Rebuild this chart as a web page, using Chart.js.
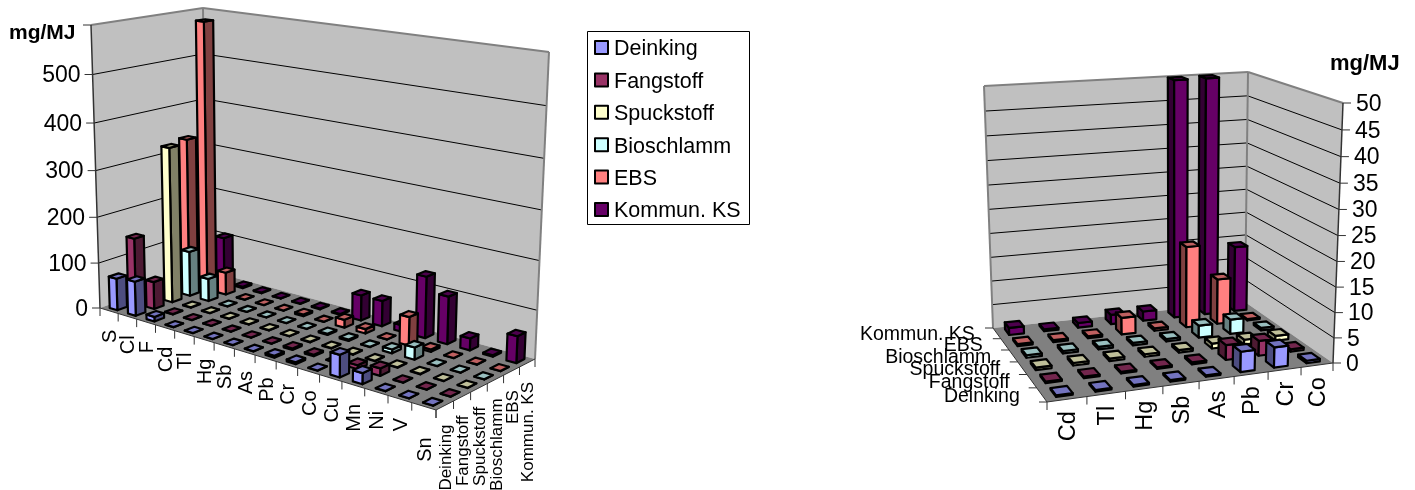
<!DOCTYPE html>
<html>
<head>
<meta charset="utf-8">
<script src="https://cdn.jsdelivr.net/npm/chart.js@4"></script>
<style>
  html, body { margin: 0; background: #fff; }
  canvas { position: absolute; top: 0; }
</style>
</head>
<body>
<canvas id="leftChart" style="left:0" width="780" height="490"></canvas>
<canvas id="rightChart" style="left:780px" width="635" height="490"></canvas>
<script>
const seriesNames = ['Deinking', 'Fangstoff', 'Spuckstoff', 'Bioschlamm', 'EBS', 'Kommun. KS'];
const seriesColors = ['#9999ff', '#993366', '#ffffcc', '#ccffff', '#ff8080', '#660066'];

// all elements
const categoriesAll = ['S', 'Cl', 'F', 'Cd', 'Tl', 'Hg', 'Sb', 'As', 'Pb', 'Cr', 'Co', 'Cu', 'Mn', 'Ni', 'V', 'Sn'];
const deinkingAll = [70, 75, 10, 0.3, 0.3, 0.3, 0.3, 0.3, 4, 4, 0.5, 45, 22, 0.5, 0.3, 0.3];
const fangstoffAll = [145, 60, 1, 0.3, 0.3, 0.3, 0.3, 0.4, 3, 3, 0.5, 8, 15, 0.5, 0.3, 0.3];
const spuckstoffAll = [1, 340, 1, 0.5, 0.5, 0.5, 0.5, 0.5, 1, 1, 1, 1, 1, 1, 0.5, 0.5];
const bioschlammAll = [1, 100, 50, 0.5, 0.5, 0.5, 0.5, 0.5, 2.5, 3, 0.5, 8, 25, 0.5, 0.5, 0.5];
const ebsAll = [330, 590, 50, 0.4, 0.4, 0.4, 3.5, 0.5, 17, 9.5, 0.3, 60, 5, 0.5, 0.5, 0.5];
const kommunAll = [1, 105, 3, 1.5, 0.4, 1, 2, 2, 55, 55, 14, 130, 100, 25, 3, 55];

// heavy metals only
const categoriesMetals = ['Cd', 'Tl', 'Hg', 'Sb', 'As', 'Pb', 'Cr', 'Co'];
const deinkingMetals = [0.3, 0.3, 0.3, 0.3, 0.3, 4, 4, 0.5];
const fangstoffMetals = [0.3, 0.3, 0.3, 0.3, 0.4, 3, 3, 0.5];
const spuckstoffMetals = [0.5, 0.5, 0.5, 0.5, 0.5, 1, 1, 1];
const bioschlammMetals = [0.5, 0.5, 0.5, 0.5, 0.5, 2.5, 3, 0.5];
const ebsMetals = [0.4, 0.4, 0.4, 3.5, 0.5, 17, 9.5, 0.3];
const kommunMetals = [1.5, 0.4, 1, 2, 2, 55, 55, 14];

const FONT = '"Liberation Sans", Arial, sans-serif';

// maps the unit square onto a picture quad: (0,0) A, (1,0) B, (1,1) C, (0,1) D
function quadMap([A, B, C, D]) {
  const dx1 = B[0] - C[0], dx2 = D[0] - C[0], sx = A[0] - B[0] + C[0] - D[0];
  const dy1 = B[1] - C[1], dy2 = D[1] - C[1], sy = A[1] - B[1] + C[1] - D[1];
  const det = dx1 * dy2 - dx2 * dy1;
  const g = (sx * dy2 - dx2 * sy) / det;
  const h = (dx1 * sy - sx * dy1) / det;
  const a = B[0] - A[0] + g * B[0], b = D[0] - A[0] + h * D[0];
  const d = B[1] - A[1] + g * B[1], e = D[1] - A[1] + h * D[1];
  return (u, v) => {
    const W = g * u + h * v + 1;
    return [(a * u + b * v + A[0]) / W, (d * u + e * v + A[1]) / W];
  };
}

function makeProjection(view) {
  const floor = quadMap(view.floor);
  const roof = quadMap(view.roof);
  return (u, v, w) => {
    const f = floor(u, v), r = roof(u, v);
    const t = w / (1 + view.persp * (1 - w));
    return [f[0] + (r[0] - f[0]) * t, f[1] + (r[1] - f[1]) * t];
  };
}

function shade(hex, k) {
  const n = parseInt(hex.slice(1), 16);
  return `rgb(${Math.round((n >> 16) * k)},${Math.round(((n >> 8) & 255) * k)},${Math.round((n & 255) * k)})`;
}

function poly(ctx, pts, fill, stroke, lw) {
  ctx.beginPath();
  pts.forEach((p, i) => i ? ctx.lineTo(p[0], p[1]) : ctx.moveTo(p[0], p[1]));
  ctx.closePath();
  if (fill) { ctx.fillStyle = fill; ctx.fill(); }
  if (stroke) { ctx.strokeStyle = stroke; ctx.lineWidth = lw; ctx.stroke(); }
}

function line(ctx, p, q, color, lw) {
  ctx.beginPath();
  ctx.moveTo(p[0], p[1]);
  ctx.lineTo(q[0], q[1]);
  ctx.strokeStyle = color;
  ctx.lineWidth = lw;
  ctx.stroke();
}

function label(ctx, text, x, y, font, align, baseline, rotate) {
  ctx.save();
  ctx.translate(x, y);
  if (rotate) ctx.rotate(-Math.PI / 2);
  ctx.font = font;
  ctx.textAlign = align;
  ctx.textBaseline = baseline;
  ctx.fillStyle = '#000';
  // middle baseline sits a little high for capitals and digits
  ctx.fillText(text, 0, 1.5);
  ctx.restore();
}

const scene3d = {
  id: 'scene3d',
  beforeDatasetsDraw(chart, args, view) {
    const ctx = chart.ctx;
    const project = makeProjection(view);
    const sx = chart.scales.x, sy = chart.scales.y, sz = chart.scales.z;
    const uOf = i => (sx.getPixelForValue(i) - sx.left) / sx.width;
    const vOf = j => (sz.getPixelForValue(j) - sz.left) / sz.width;
    const wOf = val => (sy.bottom - sy.getPixelForValue(val)) / sy.height;
    const nCat = sx.getLabels().length, nSer = sz.getLabels().length;
    const wallU = view.nearU ? 0 : 1;
    const axisU = view.nearU ? 0 : 1;

    ctx.save();
    ctx.lineJoin = 'round';

    // walls and floor
    poly(ctx, [project(wallU, 0, 0), project(wallU, 1, 0), project(wallU, 1, 1), project(wallU, 0, 1)], '#c0c0c0');
    poly(ctx, [project(0, 1, 0), project(1, 1, 0), project(1, 1, 1), project(0, 1, 1)], '#c0c0c0');
    poly(ctx, [project(0, 0, 0), project(1, 0, 0), project(1, 1, 0), project(0, 1, 0)], '#808080');

    sy.ticks.forEach(t => {
      const w = wOf(t.value);
      if (w <= 0 || w >= 1) return;
      line(ctx, project(wallU, 0, w), project(wallU, 1, w), '#000', 1);
      line(ctx, project(0, 1, w), project(1, 1, w), '#000', 1);
    });
    const edge = '#808080';
    line(ctx, project(wallU, 0, 1), project(wallU, 1, 1), edge, 2);
    line(ctx, project(0, 1, 1), project(1, 1, 1), edge, 2);
    line(ctx, project(wallU, 1, 0), project(wallU, 1, 1), edge, 2);
    line(ctx, project(1 - wallU, 1, 0), project(1 - wallU, 1, 1), edge, 2);

    // floor edges and category ticks
    line(ctx, project(0, 0, 0), project(1, 0, 0), '#333', 1);
    for (let i = 0; i <= nCat; i++) {
      const p = project(i / nCat, 0, 0);
      line(ctx, p, [p[0], p[1] + view.tickLen], '#333', 1);
    }
    categoryLabels(chart, project, uOf, view);
    seriesAxis(chart, project, vOf, view);

    // value axis
    const base = project(axisU, 0, 0);
    line(ctx, base, project(axisU, 0, 1), '#333', 1.5);
    const side = view.nearU ? -1 : 1;
    sy.ticks.forEach(t => {
      const p = project(axisU, 0, wOf(t.value));
      line(ctx, p, [p[0] + side * view.tickLen, p[1]], '#333', 1);
      if (view.hideTopLabel && t.value === sy.max) return;
      label(ctx, t.label, p[0] + side * view.valueGap, p[1], view.valueFont,
        side < 0 ? 'right' : 'left', 'middle');
    });
    label(ctx, 'mg/MJ', view.unit[0], view.unit[1], view.unitFont, 'left', 'middle');

    // bars, far row first
    const halfU = 0.21, halfV = 0.26;
    const lw = 2.2;
    const us = [...Array(nCat).keys()];
    if (!view.nearU) us.reverse();
    for (let j = nSer - 1; j >= 0; j--) {
      const values = chart.data.datasets[j].data;
      const color = chart.data.datasets[j].backgroundColor;
      us.forEach(i => {
        const du = 1 / nCat, dv = 1 / nSer;
        const u0 = uOf(i) - halfU * du, u1 = uOf(i) + halfU * du;
        const v0 = vOf(j) - halfV * dv, v1 = vOf(j) + halfV * dv;
        const w = Math.min(wOf(values[i]), 1);
        const uFace = view.nearU ? u1 : u0;
        poly(ctx, [project(uFace, v0, 0), project(uFace, v1, 0), project(uFace, v1, w), project(uFace, v0, w)], shade(color, 0.5), '#000', lw);
        poly(ctx, [project(u0, v0, 0), project(u1, v0, 0), project(u1, v0, w), project(u0, v0, w)], color, '#000', lw);
        poly(ctx, [project(u0, v0, w), project(u1, v0, w), project(u1, v1, w), project(u0, v1, w)], shade(color, 0.75), '#000', lw);
      });
    }

    if (view.legend) drawLegend(chart, view.legend);
    ctx.restore();
    return false;
  }
};

function categoryLabels(chart, project, uOf, view) {
  const ctx = chart.ctx, sx = chart.scales.x;
  sx.getLabels().forEach((text, i) => {
    const p = project(uOf(i), 0, 0);
    // the last label hangs lower in the original
    const drop = i === sx.getLabels().length - 1 ? view.lastDrop : 0;
    label(ctx, text, p[0], p[1] + view.catGap + drop, view.catFont, 'right', 'middle', true);
  });
}

function seriesAxis(chart, project, vOf, view) {
  const ctx = chart.ctx, sz = chart.scales.z;
  const edgeU = view.nearU ? 1 : 0;
  line(ctx, project(edgeU, 0, 0), project(edgeU, 1, 0), '#333', 1);
  const n = sz.getLabels().length;
  for (let j = 0; j <= n; j++) {
    const p = project(edgeU, j / n, 0);
    if (view.nearU) line(ctx, p, [p[0], p[1] + view.tickLen], '#333', 1);
    else line(ctx, p, [p[0] - view.tickLen, p[1]], '#333', 1);
  }
  sz.getLabels().forEach((text, j) => {
    const p = project(edgeU, vOf(j), 0);
    if (view.nearU) label(ctx, text, p[0], p[1] + view.serGap, view.serFont, 'right', 'middle', true);
    else label(ctx, text, p[0] - view.serGap, p[1], view.serFont, 'right', 'middle');
  });
}

function drawLegend(chart, box) {
  const ctx = chart.ctx;
  ctx.fillStyle = '#fff';
  ctx.strokeStyle = '#000';
  ctx.lineWidth = 1;
  ctx.fillRect(box.x, box.y, box.w, box.h);
  ctx.strokeRect(box.x + 0.5, box.y + 0.5, box.w, box.h);
  chart.data.datasets.forEach((ds, i) => {
    const cy = box.y + box.first + i * box.step;
    ctx.fillStyle = ds.backgroundColor;
    ctx.strokeStyle = '#000';
    ctx.lineWidth = 2;
    ctx.fillRect(box.x + 8, cy - 7, 13, 13);
    ctx.strokeRect(box.x + 8, cy - 7, 13, 13);
    label(ctx, ds.label, box.x + 27, cy, box.font, 'left', 'middle');
  });
}

function makeChart(id, categories, values, yMax, step, view) {
  return new Chart(document.getElementById(id), {
    type: 'bar',
    data: {
      labels: categories,
      datasets: seriesNames.map((name, i) => ({
        label: name,
        data: values[i],
        backgroundColor: seriesColors[i],
        xAxisID: 'x',
        yAxisID: 'y'
      }))
    },
    options: {
      responsive: false,
      animation: false,
      events: [],
      layout: { padding: 0 },
      plugins: {
        legend: { display: false },
        tooltip: { enabled: false },
        scene3d: view
      },
      scales: {
        x: { type: 'category', display: false },
        z: { type: 'category', axis: 'x', labels: seriesNames, offset: true, display: false },
        y: { type: 'linear', min: 0, max: yMax, ticks: { stepSize: step }, display: false }
      }
    },
    plugins: [scene3d]
  });
}

makeChart('leftChart', categoriesAll,
  [deinkingAll, fangstoffAll, spuckstoffAll, bioschlammAll, ebsAll, kommunAll], 600, 100, {
    nearU: 1, hideTopLabel: true, persp: 0.06,
    floor: [[100, 308], [436, 410], [535, 359], [206, 270]],
    roof: [[91, 25], [445, 76], [549, 52], [203, 8]],
    tickLen: 8, valueGap: 12, catGap: 19, serGap: 19, lastDrop: 12,
    valueFont: '23px ' + FONT, catFont: '20px ' + FONT, serFont: '17px ' + FONT,
    unit: [9, 32], unitFont: 'bold 21px ' + FONT,
    legend: { x: 587, y: 31, w: 162, h: 193, first: 17, step: 32.4, font: '21.5px ' + FONT }
  });

makeChart('rightChart', categoriesMetals,
  [deinkingMetals, fangstoffMetals, spuckstoffMetals, bioschlammMetals, ebsMetals, kommunMetals], 50, 5, {
    nearU: 0, persp: 0.04,
    floor: [[267, 402], [553, 363], [465, 302], [213, 328]],
    roof: [[261, 124], [563, 103], [468, 72], [204, 86]],
    tickLen: 8, valueGap: 13, catGap: 12, serGap: 22, lastDrop: 0,
    valueFont: '23px ' + FONT, catFont: '23.5px ' + FONT, serFont: '19.5px ' + FONT,
    unit: [550, 62], unitFont: 'bold 22px ' + FONT
  });
</script>
</body>
</html>
